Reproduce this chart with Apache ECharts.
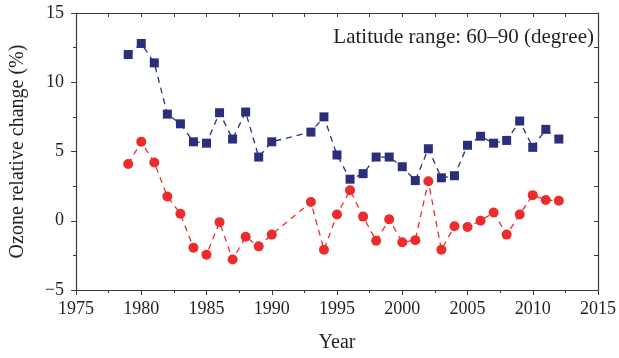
<!DOCTYPE html>
<html>
<head>
<meta charset="utf-8">
<script src="https://cdn.jsdelivr.net/npm/echarts@6/dist/echarts.min.js"></script>
<style>
html,body{margin:0;padding:0;background:#fff;}
#main{width:619px;height:358px;}
</style>
</head>
<body>
<div id="main"></div>
<script>
var years = [1979,1980,1981,1982,1983,1984,1985,1986,1987,1988,1989,1990,1993,1994,1995,1996,1997,1998,1999,2000,2001,2002,2003,2004,2005,2006,2007,2008,2009,2010,2011,2012];
// blue squares
var upper = [12.0,12.8,11.4,7.7,7.0,5.7,5.6,7.8,5.9,7.85,4.6,5.7,6.4,7.5,4.75,3.0,3.4,4.6,4.6,3.9,2.9,5.2,3.1,3.25,5.45,6.1,5.6,5.8,7.2,5.3,6.6,5.9];
// red circles
var lower = [4.1,5.7,4.2,1.75,0.5,-1.95,-2.45,-0.1,-2.8,-1.15,-1.85,-1.0,1.35,-2.1,0.45,2.2,0.3,-1.45,0.1,-1.55,-1.4,2.85,-2.1,-0.4,-0.45,0.0,0.6,-1.0,0.45,1.85,1.5,1.45];
var xTicks = [1975,2015,5];
var yTicks = [-5,15,5];

function pairs(v){
	var out = [];
	for (var i = 0; i < years.length; i++) out.push([years[i], v[i]]);
	return out;
}
function fmt(v){
	return v < 0 ? '\u2212' + (-v) : String(v);
}

var font = 'Liberation Serif';
var axisCol = '#3a3a3a';
var txtCol = '#231f20';

var myChart = echarts.init(document.getElementById('main'));
var option = {
	animation: false,
	backgroundColor: '#fff',
	grid: {left: 75, right: 18, top: 13, bottom: 68},
	title: {
		text: 'Latitude range: 60\u201390 (degree)',
		right: 20, top: 22,
		textStyle: {fontFamily: font, fontSize: 21, fontWeight: 'normal', color: txtCol}
	},
	xAxis: [{
		type: 'value', min: xTicks[0], max: xTicks[1], interval: xTicks[2],
		name: 'Year', nameLocation: 'middle', nameGap: 43,
		nameTextStyle: {fontFamily: font, fontSize: 20, color: txtCol},
		axisLine: {onZero: false, lineStyle: {color: axisCol, width: 1.2}},
		axisTick: {length: 5, lineStyle: {color: axisCol}},
		minorTick: {show: true, splitNumber: 2, length: 3, lineStyle: {color: axisCol}},
		axisLabel: {fontFamily: font, fontSize: 18, color: txtCol, margin: 10, formatter: fmt},
		splitLine: {show: false}
	}, {
		type: 'value', position: 'top', min: xTicks[0], max: xTicks[1], interval: 2.5,
		axisLine: {onZero: false, lineStyle: {color: axisCol, width: 1.2}},
		axisTick: {inside: true, length: 4, lineStyle: {color: axisCol}},
		axisLabel: {show: false}, splitLine: {show: false}
	}],
	yAxis: [{
		type: 'value', min: yTicks[0], max: yTicks[1], interval: yTicks[2],
		name: 'Ozone relative change (%)', nameLocation: 'middle', nameGap: 48,
		nameTextStyle: {fontFamily: font, fontSize: 20, color: txtCol},
		axisLine: {show: true, onZero: false, lineStyle: {color: axisCol, width: 1.2}},
		axisTick: {show: true, length: 5, lineStyle: {color: axisCol}},
		minorTick: {show: true, splitNumber: 2, length: 3, lineStyle: {color: axisCol}},
		axisLabel: {fontFamily: font, fontSize: 18, color: txtCol, margin: 12, formatter: fmt},
		splitLine: {show: false}
	}, {
		type: 'value', position: 'right', min: -5, max: 15, interval: 2.5,
		axisLine: {show: true, onZero: false, lineStyle: {color: axisCol, width: 1.2}},
		axisTick: {show: true, inside: true, length: 4, lineStyle: {color: axisCol}},
		axisLabel: {show: false}, splitLine: {show: false}
	}],
	series: [{
		name: 'upper', type: 'line', data: pairs(upper),
		symbol: 'rect', symbolSize: 9,
		itemStyle: {color: '#2b2e7c'},
		lineStyle: {color: '#2b2e7c', width: 1.3, type: [6, 5]}
	}, {
		name: 'lower', type: 'line', data: pairs(lower),
		symbol: 'circle', symbolSize: 10,
		itemStyle: {color: '#ee2b2b'},
		lineStyle: {color: '#ee2b2b', width: 1.3, type: [6, 5]}
	}]
};
myChart.setOption(option);
</script>
</body>
</html>
